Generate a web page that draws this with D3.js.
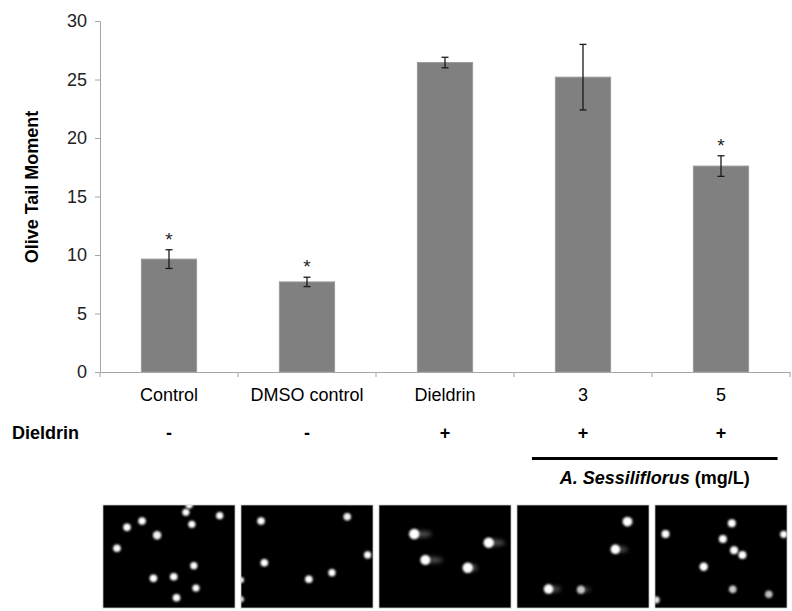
<!DOCTYPE html>
<html><head><meta charset="utf-8">
<script src="https://cdn.jsdelivr.net/npm/d3@7"></script>
<style>
body{margin:0;background:#fff;}
svg{display:block;font-family:"Liberation Sans",Arial,sans-serif;}
</style></head>
<body><svg id="c" width="792" height="611"></svg>
<script>
const categories = ["Control","DMSO control","Dieldrin","3","5"];
const values = [9.65, 7.7, 26.45, 25.2, 17.6];
const errors = [0.8, 0.4, 0.45, 2.8, 0.88];
const significant = [true, true, false, false, true];
const dieldrinRow = ["-","-","+","+","+"];
const yTicks = [0,5,10,15,20,25,30];
// comet assay nuclei per panel: [fx, fy, radius, brightness, tailLength]
const panel1 = [[.653,0,3.6,1,0],[.628,.071,3.6,1,0],[.884,.104,3.6,1,0],[.296,.155,3.8,1,0],[.182,.217,3.8,1,0],[.673,.187,3.6,1,0],[.410,.294,4.2,.95,0],[.106,.420,3.8,1,0],[.688,.589,3.6,1,0],[.382,.712,3.8,1,0],[.536,.696,3.8,1,0],[.704,.806,3.6,1,0],[.557,.900,3.8,1,0]];
const panel2 = [[.152,.155,3.8,1,0],[.805,.114,3.8,.95,0],[.177,.560,3.8,1,0],[.959,.485,3.6,1,0],[.689,.657,3.6,1,0],[.514,.721,3.8,1,0],[0,.728,3,1,0],[0,.916,3,.9,0]];
const panel3 = [[.267,.282,5.2,1,14],[.831,.366,5.2,1,13],[.351,.534,5,1,14],[.672,.609,5.2,1,8]];
const panel4 = [[.836,.162,4.8,1,4],[.745,.430,4.8,1,10],[.239,.816,4.8,1,10],[.484,.822,4.2,.75,8]];
const panel5 = [[.080,.282,4,1,0],[.582,.178,4,1,0],[.514,.330,4,1,0],[.599,.440,4,1,0],[.662,.485,4,1,0],[.369,.599,4.2,1,0],[.589,.819,3.8,.8,0],[.862,.867,3.8,.75,0],[.975,.285,3.6,1,0],[.010,.922,3.4,.9,0]];
const panels = [panel1,panel2,panel3,panel4,panel5];

const svg = d3.select("#c");
const x = d3.scaleBand().domain(categories).range([100,790]);
const y = d3.scaleLinear().domain([0,30]).range([372,21]);
const axisColor = "#a6a6a6";
const FS = 18;

// Y axis
const ya = svg.append("g").attr("transform","translate(100,0)")
  .call(d3.axisLeft(y).tickValues(yTicks).tickSize(5).tickPadding(8));
ya.select(".domain").attr("stroke",axisColor);
ya.selectAll(".tick line").attr("stroke",axisColor);
ya.selectAll(".tick text").attr("font-size",FS).attr("fill","#222").attr("font-family","Liberation Sans, Arial, sans-serif");

svg.append("text").attr("transform","translate(38,187) rotate(-90)")
  .attr("text-anchor","middle").attr("font-weight","bold").attr("font-size",FS)
  .text("Olive Tail Moment");

// bars
const bw = x.bandwidth()/2.5;
const cx = d => x(d)+x.bandwidth()/2;
svg.append("g").selectAll("rect").data(categories).join("rect")
  .attr("x",d=>cx(d)-bw/2).attr("width",bw)
  .attr("y",(d,i)=>y(values[i])).attr("height",(d,i)=>y(0)-y(values[i]))
  .attr("fill","#808080").attr("stroke","#9a9a9a").attr("stroke-width",1);

// X axis
const xa = svg.append("g").attr("transform","translate(0,372)")
  .call(d3.axisBottom(x).tickSize(0).tickPadding(16));
xa.select(".domain").attr("stroke",axisColor);
xa.selectAll(".tick text").attr("font-size",FS).attr("fill","#000").attr("font-family","Liberation Sans, Arial, sans-serif");
svg.append("g").selectAll("line").data(d3.range(categories.length+1)).join("line")
  .attr("x1",i=>100+i*x.step()).attr("x2",i=>100+i*x.step())
  .attr("y1",372).attr("y2",377).attr("stroke",axisColor);

// error bars
const eg = svg.append("g").attr("stroke","#1a1a1a").attr("stroke-width",1.3);
categories.forEach((c,i)=>{
  const hi=y(values[i]+errors[i]), lo=y(values[i]-errors[i]), xc=cx(c);
  eg.append("line").attr("x1",xc).attr("x2",xc).attr("y1",hi).attr("y2",lo);
  eg.append("line").attr("x1",xc-3.5).attr("x2",xc+3.5).attr("y1",hi).attr("y2",hi);
  eg.append("line").attr("x1",xc-3.5).attr("x2",xc+3.5).attr("y1",lo).attr("y2",lo);
  if(significant[i]){
    svg.append("text").attr("x",xc).attr("y",y(values[i]+errors[i])-4)
      .attr("text-anchor","middle").attr("font-size",19).attr("fill","#222").text("*");
  }
});

// Dieldrin row
svg.append("text").attr("x",12).attr("y",439).attr("font-weight","bold").attr("font-size",FS).text("Dieldrin");
svg.append("g").selectAll("text").data(categories).join("text")
  .attr("x",d=>cx(d)).attr("y",439).attr("text-anchor","middle")
  .attr("font-weight","bold").attr("font-size",FS).text((d,i)=>dieldrinRow[i]);

// A. Sessiliflorus bracket
const lx1 = cx(categories[3]) - 0.37*x.step(), lx2 = cx(categories[4]) + 0.41*x.step();
svg.append("line").attr("x1",lx1).attr("x2",lx2).attr("y1",458.5).attr("y2",458.5)
  .attr("stroke","#000").attr("stroke-width",3);
const t = svg.append("text").attr("x",(lx1+lx2)/2).attr("y",484).attr("text-anchor","middle")
  .attr("font-size",FS).attr("font-weight","bold");
t.append("tspan").attr("font-style","italic").text("A. Sessiliflorus");
t.append("tspan").text(" (mg/L)");

// image panels
const defs = svg.append("defs");
defs.append("filter").attr("id","blur").attr("x","-50%").attr("y","-50%").attr("width","200%").attr("height","200%")
  .append("feGaussianBlur").attr("stdDeviation",1.1);
defs.append("filter").attr("id","tblur").attr("x","-50%").attr("y","-100%").attr("width","200%").attr("height","300%")
  .append("feGaussianBlur").attr("stdDeviation",2.2);
const pw = x.bandwidth()*0.957, pTop = 505, pH = 103;
panels.forEach((dots,i)=>{
  const px = cx(categories[i]) - pw/2;
  defs.append("clipPath").attr("id","cp"+i).append("rect").attr("x",px).attr("y",pTop).attr("width",pw).attr("height",pH);
  const g = svg.append("g").attr("clip-path","url(#cp"+i+")");
  g.append("rect").attr("x",px).attr("y",pTop).attr("width",pw).attr("height",pH).attr("fill","#000");
  dots.forEach(d=>{
    const dx = px + d[0]*pw, dy = pTop + d[1]*pH;
    if(d[4]>0){
      g.append("ellipse").attr("cx",dx+d[4]*0.55).attr("cy",dy).attr("rx",d[4]*0.7).attr("ry",d[2]*0.6)
        .attr("fill","#fff").attr("opacity",0.3*d[3]).attr("filter","url(#tblur)");
    }
    g.append("circle").attr("cx",dx).attr("cy",dy).attr("r",d[2])
      .attr("fill","#fff").attr("opacity",d[3]).attr("filter","url(#blur)");
  });
  svg.append("rect").attr("x",px).attr("y",pTop).attr("width",pw).attr("height",pH)
    .attr("fill","none").attr("stroke","#c8c8c8").attr("stroke-width",0.8);
});
</script></body></html>
